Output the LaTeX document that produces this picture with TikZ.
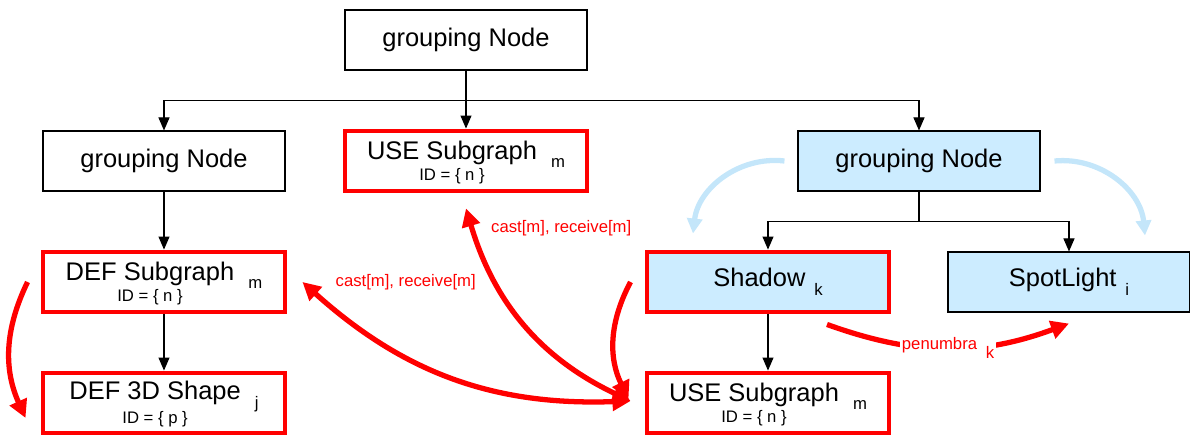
\documentclass[tikz,border=0pt]{standalone}
\usepackage{fontspec}
\setmainfont{Liberation Sans}
\usetikzlibrary{arrows.meta,positioning}

\definecolor{boxblue}{RGB}{204,236,255}
\definecolor{arcblue}{RGB}{196,230,250}
\definecolor{linkred}{RGB}{255,0,0}

\newcommand{\subidx}[1]{\hspace{5pt}\raisebox{-5pt}{\fontsize{9.5}{11}\selectfont #1}}
\newcommand{\idnode}[3]{\begin{tabular}{@{}c@{}l@{}}\rule{0pt}{15pt}#1&\hspace{3pt}\subidx{#2}\\[-5pt]{\fontsize{9.5}{11}\selectfont ID = \{ #3 \}}&\end{tabular}}

\begin{document}
\begin{tikzpicture}[node distance=2.42cm, font=\fontsize{14.5}{17}\selectfont]
    % Define styles
    \tikzstyle{plain} = [rectangle, minimum width=4.84cm, minimum height=1.2cm, inner ysep=0pt, text centered, draw=black, line width=0.6pt]
    \tikzstyle{light} = [plain, fill=boxblue]
    \tikzstyle{marked} = [plain, draw=linkred, line width=2.8pt]
    \tikzstyle{edge} = [-{Triangle[length=0.26cm,width=0.22cm]}, line width=0.6pt]
    \tikzstyle{flow} = [-{Triangle[length=0.36cm,width=0.36cm]}, draw=linkred, line width=3pt]
    \tikzstyle{link} = [{Triangle[length=0.36cm,width=0.36cm]}-{Triangle[length=0.36cm,width=0.36cm]}, draw=linkred, line width=3pt]
    \tikzstyle{hint} = [-{Triangle[length=0.3cm,width=0.3cm]}, draw=arcblue, line width=3pt]
    \tikzstyle{lbl} = [text=linkred, font=\fontsize{9.5}{11}\selectfont]

    \useasboundingbox (-9.32,-7.92) rectangle (14.48,0.8);

    % Nodes
    \node[plain] (top) {grouping Node};
    \node[plain, below of=top, xshift=-6.04cm] (grp_left) {grouping Node};
    \node[marked, below of=top] (use_top) {\idnode{USE Subgraph}{m}{n}};
    \node[light, below of=top, xshift=9.06cm] (grp_right) {grouping Node};
    \node[marked, below of=grp_left] (def_sub) {\idnode{DEF Subgraph}{m}{n}};
    \node[marked, below of=def_sub] (def_shape) {\idnode{DEF 3D Shape}{j}{p}};
    \node[marked, fill=boxblue, below of=grp_right, xshift=-3.02cm] (shadow) {Shadow\subidx{k}};
    \node[light, below of=grp_right, xshift=3.0cm] (spot) {SpotLight\subidx{i}};
    \node[marked, below of=shadow] (use_bottom) {\idnode{USE Subgraph}{m}{n}};

    % Labels
    \node[lbl, right=0.84cm of def_sub] (cast_left) {cast[m], receive[m]};
    \node[lbl, anchor=west] (cast_top) at ([xshift=0.38cm,yshift=-0.7cm]use_top.south) {cast[m], receive[m]};

    % Scene graph edges
    \draw[edge] (top) -- (use_top);
    \draw[edge] (top.south) -- ++(0,-0.6) -| (grp_left.north);
    \draw[edge] (top.south) -- ++(0,-0.6) -| (grp_right.north);
    \draw[edge] (grp_left) -- (def_sub);
    \draw[edge] (def_sub) -- (def_shape);
    \draw[edge] (grp_right.south) -- ++(0,-0.6) -| (shadow.north);
    \draw[edge] (grp_right.south) -- ++(0,-0.6) -| (spot.north);
    \draw[edge] (shadow) -- (use_bottom);

    % Light scope
    \draw[hint] ([xshift=-0.26cm]grp_right.west) to[bend right=45] ([xshift=-1.5cm,yshift=0.32cm]shadow.north);
    \draw[hint] ([xshift=0.28cm]grp_right.east) to[bend left=45] ([xshift=1.52cm,yshift=0.32cm]spot.north);

    % Routes between subgraphs
    \draw[flow] ([xshift=-0.26cm]def_sub.west) to[bend right=25] ([xshift=-0.3cm,yshift=-0.3cm]def_shape.west);
    \draw[link] ([yshift=-0.3cm]use_top.south) to[bend right=24] ([xshift=-0.28cm,yshift=0.04cm]use_bottom.west);
    \draw[link] ([xshift=0.3cm]def_sub.east) to[bend right=22] ([xshift=-0.28cm,yshift=0.04cm]use_bottom.west);
    \draw[flow] ([xshift=-0.28cm]shadow.west) to[bend right=27] ([xshift=-0.32cm,yshift=0.08cm]use_bottom.west);
    \draw[flow] ([xshift=1.18cm,yshift=-0.2cm]shadow.south) to[bend right=20]
        node[lbl, fill=white, inner sep=1pt] {penumbra\subidx{k}} ([yshift=-0.22cm]spot.south);
\end{tikzpicture}
\end{document}
